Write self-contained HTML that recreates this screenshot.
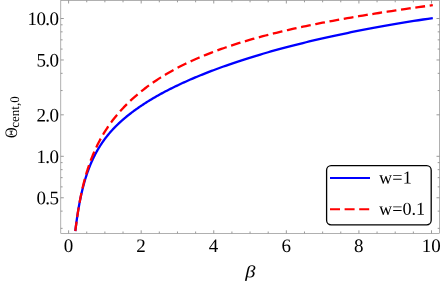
<!DOCTYPE html>
<html><head><meta charset="utf-8"><style>
html,body{margin:0;padding:0;background:#fff;}
svg{display:block}
text{text-rendering:geometricPrecision;font-family:"Liberation Serif",serif;fill:#000}
</style></head><body>
<svg width="442" height="282" viewBox="0 0 442 282">
<defs><filter id="gr" x="0" y="0" width="442" height="282" filterUnits="userSpaceOnUse" color-interpolation-filters="sRGB"><feColorMatrix type="saturate" values="0"/></filter></defs>
<rect width="442" height="282" fill="#fff"/>
<rect x="60.8" y="0.5" width="378.7" height="232.8" fill="none" stroke="#7c7c7c" stroke-width="0.6"/>
<path d="M68.60,233.3v-3.0M68.60,0.5v3.0M86.74,233.3v-1.8M86.74,0.5v1.8M104.89,233.3v-1.8M104.89,0.5v1.8M123.03,233.3v-1.8M123.03,0.5v1.8M141.18,233.3v-3.0M141.18,0.5v3.0M159.32,233.3v-1.8M159.32,0.5v1.8M177.47,233.3v-1.8M177.47,0.5v1.8M195.62,233.3v-1.8M195.62,0.5v1.8M213.76,233.3v-3.0M213.76,0.5v3.0M231.91,233.3v-1.8M231.91,0.5v1.8M250.05,233.3v-1.8M250.05,0.5v1.8M268.19,233.3v-1.8M268.19,0.5v1.8M286.34,233.3v-3.0M286.34,0.5v3.0M304.49,233.3v-1.8M304.49,0.5v1.8M322.63,233.3v-1.8M322.63,0.5v1.8M340.77,233.3v-1.8M340.77,0.5v1.8M358.92,233.3v-3.0M358.92,0.5v3.0M377.06,233.3v-1.8M377.06,0.5v1.8M395.21,233.3v-1.8M395.21,0.5v1.8M413.36,233.3v-1.8M413.36,0.5v1.8M431.50,233.3v-3.0M431.50,0.5v3.0M60.8,197.78h3.0M439.5,197.78h-3.0M60.8,156.30h3.0M439.5,156.30h-3.0M60.8,114.82h3.0M439.5,114.82h-3.0M60.8,59.98h3.0M439.5,59.98h-3.0M60.8,18.50h3.0M439.5,18.50h-3.0M60.8,228.35h1.8M439.5,228.35h-1.8M60.8,211.14h1.8M439.5,211.14h-1.8M60.8,186.87h1.8M439.5,186.87h-1.8M60.8,177.65h1.8M439.5,177.65h-1.8M60.8,169.65h1.8M439.5,169.65h-1.8M60.8,162.61h1.8M439.5,162.61h-1.8M60.8,90.55h1.8M439.5,90.55h-1.8M60.8,73.34h1.8M439.5,73.34h-1.8M60.8,49.07h1.8M439.5,49.07h-1.8M60.8,39.85h1.8M439.5,39.85h-1.8M60.8,31.85h1.8M439.5,31.85h-1.8M60.8,24.81h1.8M439.5,24.81h-1.8" fill="none" stroke="#808080" stroke-width="0.8"/>
<path d="M75.30,231.13 L75.39,230.37 L75.48,229.61 L75.57,228.85 L75.67,228.09 L75.76,227.33 L75.86,226.56 L75.96,225.80 L76.06,225.03 L76.16,224.27 L76.26,223.50 L76.36,222.73 L76.47,221.96 L76.57,221.19 L76.68,220.42 L76.79,219.65 L76.90,218.87 L77.01,218.10 L77.12,217.33 L77.24,216.55 L77.35,215.78 L77.47,215.01 L77.59,214.23 L77.71,213.46 L77.83,212.68 L77.96,211.91 L78.08,211.13 L78.21,210.36 L78.34,209.59 L78.47,208.81 L78.60,208.04 L78.74,207.27 L78.88,206.49 L79.01,205.72 L79.15,204.95 L79.30,204.18 L79.44,203.41 L79.59,202.64 L79.73,201.87 L79.88,201.10 L80.03,200.33 L80.19,199.56 L80.34,198.80 L80.50,198.03 L80.66,197.27 L80.82,196.50 L80.99,195.74 L81.16,194.98 L81.32,194.22 L81.50,193.46 L81.67,192.70 L81.85,191.94 L82.02,191.18 L82.20,190.43 L82.39,189.67 L82.57,188.92 L82.76,188.17 L82.95,187.42 L83.14,186.67 L83.34,185.92 L83.54,185.18 L83.74,184.43 L83.94,183.69 L84.15,182.95 L84.36,182.20 L84.57,181.46 L84.78,180.73 L85.00,179.99 L85.22,179.26 L85.45,178.52 L85.67,177.79 L85.90,177.06 L86.14,176.33 L86.37,175.60 L86.61,174.88 L86.85,174.15 L87.10,173.43 L87.35,172.71 L87.60,171.99 L87.86,171.27 L88.11,170.55 L88.38,169.84 L88.64,169.12 L88.91,168.41 L89.19,167.70 L89.46,166.99 L89.74,166.29 L90.03,165.58 L90.32,164.88 L90.61,164.17 L90.90,163.47 L91.20,162.77 L91.51,162.08 L91.82,161.38 L92.13,160.69 L92.45,159.99 L92.77,159.30 L93.09,158.61 L93.42,157.92 L93.76,157.23 L94.09,156.55 L94.44,155.86 L94.78,155.18 L95.14,154.50 L95.49,153.82 L95.86,153.14 L96.22,152.46 L96.59,151.79 L96.97,151.11 L97.35,150.44 L97.74,149.77 L98.13,149.10 L98.53,148.43 L98.93,147.76 L99.34,147.09 L99.75,146.43 L100.17,145.76 L100.60,145.10 L101.03,144.44 L101.46,143.77 L101.90,143.12 L102.35,142.46 L102.81,141.80 L103.27,141.15 L103.73,140.49 L104.21,139.84 L104.68,139.19 L105.17,138.54 L105.66,137.89 L106.16,137.24 L106.67,136.59 L107.18,135.95 L107.70,135.30 L108.22,134.66 L108.76,134.02 L109.30,133.37 L109.84,132.73 L110.40,132.09 L110.96,131.45 L111.53,130.81 L112.11,130.18 L112.69,129.54 L113.29,128.90 L113.89,128.27 L114.50,127.63 L115.11,127.00 L115.74,126.36 L116.37,125.73 L117.02,125.10 L117.67,124.47 L118.33,123.83 L119.00,123.20 L119.68,122.57 L120.36,121.94 L121.06,121.31 L121.77,120.68 L122.48,120.04 L123.21,119.41 L123.94,118.78 L124.68,118.15 L125.44,117.52 L126.20,116.89 L126.98,116.25 L127.76,115.62 L128.56,114.99 L129.37,114.35 L130.18,113.72 L131.01,113.08 L131.85,112.44 L132.70,111.80 L133.57,111.16 L134.44,110.52 L135.32,109.88 L136.22,109.24 L137.13,108.59 L138.05,107.94 L138.99,107.30 L139.94,106.64 L140.90,105.99 L141.87,105.34 L142.85,104.68 L143.85,104.03 L144.86,103.37 L145.89,102.71 L146.93,102.06 L147.98,101.40 L149.05,100.73 L150.13,100.07 L151.23,99.41 L152.34,98.75 L153.47,98.08 L154.61,97.41 L155.77,96.74 L156.94,96.08 L158.13,95.40 L159.33,94.73 L160.55,94.06 L161.79,93.38 L163.05,92.71 L164.32,92.03 L165.60,91.35 L166.91,90.67 L168.23,89.99 L169.57,89.30 L170.93,88.62 L172.31,87.93 L173.70,87.24 L175.12,86.55 L176.55,85.86 L178.00,85.17 L179.47,84.47 L180.96,83.78 L182.48,83.08 L184.01,82.38 L185.56,81.68 L187.13,80.97 L188.73,80.27 L190.34,79.56 L191.98,78.85 L193.64,78.14 L195.32,77.43 L197.03,76.72 L198.76,76.00 L200.51,75.28 L202.28,74.56 L204.08,73.84 L205.90,73.12 L207.75,72.40 L209.62,71.67 L211.52,70.94 L213.44,70.21 L215.39,69.48 L217.37,68.75 L219.37,68.01 L221.39,67.28 L223.45,66.54 L225.53,65.80 L227.64,65.06 L229.78,64.32 L231.95,63.57 L234.15,62.83 L236.38,62.08 L238.63,61.33 L240.92,60.58 L243.24,59.83 L245.59,59.08 L247.97,58.32 L250.38,57.57 L252.83,56.81 L255.31,56.05 L257.82,55.29 L260.36,54.53 L262.94,53.77 L265.56,53.01 L268.21,52.24 L270.89,51.48 L273.62,50.71 L276.37,49.95 L279.17,49.18 L282.00,48.41 L284.87,47.64 L287.78,46.87 L290.73,46.10 L293.72,45.33 L296.75,44.56 L299.82,43.79 L302.93,43.02 L306.08,42.25 L309.27,41.48 L312.51,40.71 L315.79,39.93 L319.12,39.16 L322.49,38.39 L325.90,37.62 L329.37,36.85 L332.87,36.08 L336.43,35.31 L340.03,34.54 L343.68,33.78 L347.38,33.01 L351.14,32.24 L354.94,31.48 L358.79,30.72 L362.69,29.95 L366.65,29.19 L370.66,28.44 L374.72,27.68 L378.84,26.92 L383.01,26.17 L387.24,25.42 L391.53,24.67 L395.87,23.93 L400.28,23.18 L404.74,22.44 L409.26,21.70 L413.84,20.97 L418.49,20.24 L423.20,19.51 L427.97,18.79 L432.80,18.07" fill="none" stroke="#0000ff" stroke-width="2.3" stroke-linejoin="round"/>
<path d="M75.30,231.01 L75.39,230.32 L75.48,229.61 L75.57,228.91 L75.67,228.19 L75.76,227.47 L75.86,226.75 L75.96,226.01 L76.06,225.28 L76.16,224.54 L76.26,223.79 L76.36,223.04 L76.47,222.29 L76.57,221.53 L76.68,220.77 L76.79,220.00 L76.90,219.23 L77.01,218.46 L77.12,217.68 L77.24,216.90 L77.35,216.12 L77.47,215.34 L77.59,214.55 L77.71,213.76 L77.83,212.97 L77.96,212.18 L78.08,211.38 L78.21,210.59 L78.34,209.79 L78.47,208.99 L78.60,208.19 L78.74,207.39 L78.88,206.58 L79.01,205.78 L79.15,204.97 L79.30,204.16 L79.44,203.36 L79.59,202.55 L79.73,201.74 L79.88,200.93 L80.03,200.12 L80.19,199.31 L80.34,198.50 L80.50,197.69 L80.66,196.88 L80.82,196.07 L80.99,195.25 L81.16,194.44 L81.32,193.63 L81.50,192.82 L81.67,192.01 L81.85,191.20 L82.02,190.39 L82.20,189.58 L82.39,188.77 L82.57,187.96 L82.76,187.15 L82.95,186.34 L83.14,185.53 L83.34,184.73 L83.54,183.92 L83.74,183.11 L83.94,182.31 L84.15,181.50 L84.36,180.70 L84.57,179.89 L84.78,179.09 L85.00,178.29 L85.22,177.48 L85.45,176.68 L85.67,175.88 L85.90,175.08 L86.14,174.28 L86.37,173.48 L86.61,172.68 L86.85,171.89 L87.10,171.09 L87.35,170.29 L87.60,169.50 L87.86,168.70 L88.11,167.91 L88.38,167.12 L88.64,166.32 L88.91,165.53 L89.19,164.74 L89.46,163.95 L89.74,163.16 L90.03,162.37 L90.32,161.58 L90.61,160.79 L90.90,160.01 L91.20,159.22 L91.51,158.43 L91.82,157.64 L92.13,156.86 L92.45,156.07 L92.77,155.29 L93.09,154.50 L93.42,153.72 L93.76,152.94 L94.09,152.15 L94.44,151.37 L94.78,150.59 L95.14,149.81 L95.49,149.03 L95.86,148.25 L96.22,147.46 L96.59,146.68 L96.97,145.90 L97.35,145.12 L97.74,144.34 L98.13,143.56 L98.53,142.78 L98.93,142.01 L99.34,141.23 L99.75,140.45 L100.17,139.67 L100.60,138.89 L101.03,138.11 L101.46,137.33 L101.90,136.56 L102.35,135.78 L102.81,135.00 L103.27,134.23 L103.73,133.45 L104.21,132.67 L104.68,131.90 L105.17,131.12 L105.66,130.35 L106.16,129.57 L106.67,128.80 L107.18,128.02 L107.70,127.25 L108.22,126.48 L108.76,125.70 L109.30,124.93 L109.84,124.15 L110.40,123.38 L110.96,122.61 L111.53,121.84 L112.11,121.06 L112.69,120.29 L113.29,119.52 L113.89,118.74 L114.50,117.97 L115.11,117.20 L115.74,116.43 L116.37,115.66 L117.02,114.88 L117.67,114.11 L118.33,113.34 L119.00,112.57 L119.68,111.80 L120.36,111.02 L121.06,110.25 L121.77,109.48 L122.48,108.71 L123.21,107.94 L123.94,107.16 L124.68,106.39 L125.44,105.62 L126.20,104.85 L126.98,104.07 L127.76,103.30 L128.56,102.52 L129.37,101.75 L130.18,100.98 L131.01,100.20 L131.85,99.43 L132.70,98.65 L133.57,97.87 L134.44,97.10 L135.32,96.32 L136.22,95.54 L137.13,94.76 L138.05,93.98 L138.99,93.20 L139.94,92.42 L140.90,91.63 L141.87,90.85 L142.85,90.07 L143.85,89.29 L144.86,88.50 L145.89,87.72 L146.93,86.94 L147.98,86.16 L149.05,85.38 L150.13,84.60 L151.23,83.82 L152.34,83.04 L153.47,82.26 L154.61,81.48 L155.77,80.71 L156.94,79.93 L158.13,79.15 L159.33,78.38 L160.55,77.60 L161.79,76.83 L163.05,76.05 L164.32,75.28 L165.60,74.51 L166.91,73.73 L168.23,72.96 L169.57,72.19 L170.93,71.43 L172.31,70.66 L173.70,69.89 L175.12,69.13 L176.55,68.36 L178.00,67.60 L179.47,66.83 L180.96,66.07 L182.48,65.31 L184.01,64.55 L185.56,63.80 L187.13,63.04 L188.73,62.28 L190.34,61.53 L191.98,60.78 L193.64,60.03 L195.32,59.28 L197.03,58.53 L198.76,57.78 L200.51,57.04 L202.28,56.29 L204.08,55.55 L205.90,54.81 L207.75,54.07 L209.62,53.34 L211.52,52.60 L213.44,51.87 L215.39,51.13 L217.37,50.40 L219.37,49.68 L221.39,48.95 L223.45,48.22 L225.53,47.50 L227.64,46.78 L229.78,46.06 L231.95,45.34 L234.15,44.63 L236.38,43.92 L238.63,43.20 L240.92,42.49 L243.24,41.79 L245.59,41.08 L247.97,40.38 L250.38,39.68 L252.83,38.98 L255.31,38.28 L257.82,37.58 L260.36,36.89 L262.94,36.20 L265.56,35.51 L268.21,34.82 L270.89,34.13 L273.62,33.45 L276.37,32.76 L279.17,32.08 L282.00,31.41 L284.87,30.73 L287.78,30.05 L290.73,29.38 L293.72,28.71 L296.75,28.04 L299.82,27.37 L302.93,26.70 L306.08,26.04 L309.27,25.38 L312.51,24.71 L315.79,24.05 L319.12,23.40 L322.49,22.74 L325.90,22.08 L329.37,21.43 L332.87,20.77 L336.43,20.12 L340.03,19.47 L343.68,18.82 L347.38,18.17 L351.14,17.52 L354.94,16.87 L358.79,16.22 L362.69,15.57 L366.65,14.93 L370.66,14.28 L374.72,13.63 L378.84,12.99 L383.01,12.34 L387.24,11.69 L391.53,11.05 L395.87,10.40 L400.28,9.75 L404.74,9.10 L409.26,8.45 L413.84,7.80 L418.49,7.15 L423.20,6.50 L427.97,5.85 L432.80,5.19" fill="none" stroke="#ff0000" stroke-width="2.3" stroke-dasharray="9.85 4.64" stroke-dashoffset="0.4" stroke-linejoin="round"/>
<rect x="326.6" y="165.7" width="104.6" height="59.1" rx="4.5" fill="#fff" stroke="#000" stroke-width="1.3"/>
<path d="M330,177.9H370" stroke="#0000ff" stroke-width="2"/>
<path d="M330,209.2H370" stroke="#ff0000" stroke-width="2" stroke-dasharray="10 4.6"/>
<g filter="url(#gr)"><text transform="translate(58.4,25.10) rotate(0.05)" text-anchor="end" font-size="19.0" letter-spacing="-0.6">10.0</text>
<text transform="translate(58.4,66.58) rotate(0.05)" text-anchor="end" font-size="19.0" letter-spacing="-0.6">5.0</text>
<text transform="translate(58.4,121.42) rotate(0.05)" text-anchor="end" font-size="19.0" letter-spacing="-0.6">2.0</text>
<text transform="translate(58.4,162.90) rotate(0.05)" text-anchor="end" font-size="19.0" letter-spacing="-0.6">1.0</text>
<text transform="translate(58.4,204.38) rotate(0.05)" text-anchor="end" font-size="19.0" letter-spacing="-0.6">0.5</text>
<text transform="translate(68.40,252.0) rotate(0.05)" text-anchor="middle" font-size="19.0">0</text>
<text transform="translate(140.98,252.0) rotate(0.05)" text-anchor="middle" font-size="19.0">2</text>
<text transform="translate(213.56,252.0) rotate(0.05)" text-anchor="middle" font-size="19.0">4</text>
<text transform="translate(286.14,252.0) rotate(0.05)" text-anchor="middle" font-size="19.0">6</text>
<text transform="translate(358.72,252.0) rotate(0.05)" text-anchor="middle" font-size="19.0">8</text>
<text transform="translate(431.30,252.0) rotate(0.05)" text-anchor="middle" font-size="19.0">10</text>
<text transform="translate(379.0,183.5) rotate(0.05)" font-size="18.2" letter-spacing="0.2">w=1</text>
<text transform="translate(379.0,214.75) rotate(0.05)" font-size="18.2" letter-spacing="0">w=0.1</text>
<text transform="translate(250.3,277.3) rotate(0.05) scale(1.2,1)" x="0" y="0" text-anchor="middle" font-size="17" font-style="italic">β</text>
<text transform="translate(16.5,138.1) rotate(-90) scale(0.83,1)" font-size="17.5">Θ</text><text transform="translate(19.4,127.7) rotate(-90)" font-size="13">cent,0</text></g>
</svg>
</body></html>
